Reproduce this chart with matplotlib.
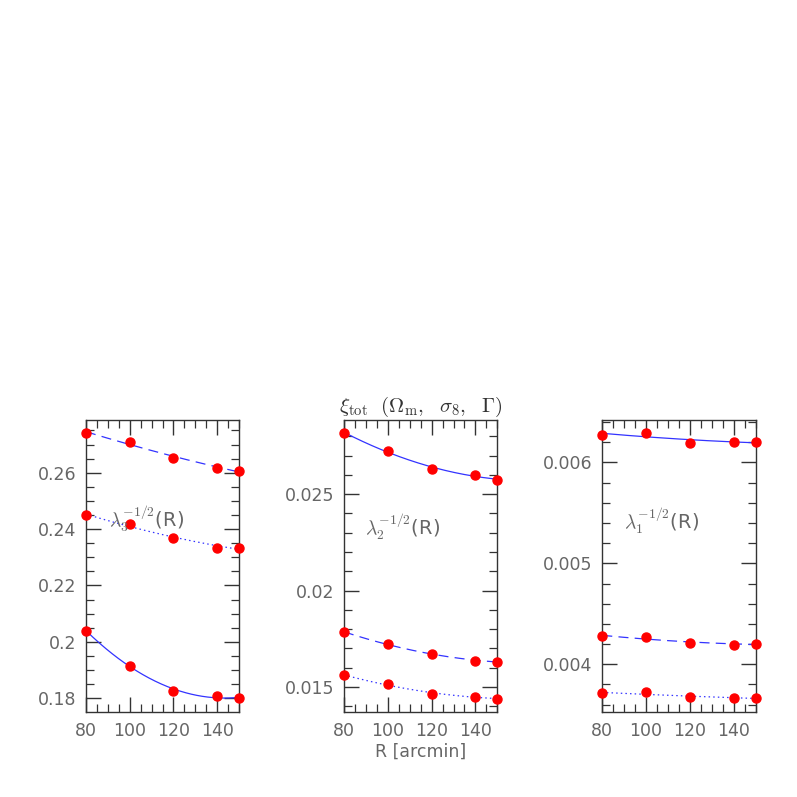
import matplotlib
matplotlib.use('Agg')
import matplotlib.pyplot as plt
from matplotlib.ticker import MultipleLocator
import numpy as np

R = [80, 100, 120, 140, 150]

# lambda_3^{-1/2}(R)
l3_dashed = [0.2742, 0.2709, 0.2653, 0.2616, 0.2607]
l3_dotted = [0.2449, 0.2419, 0.2367, 0.2334, 0.2334]
l3_solid = [0.2039, 0.1916, 0.1827, 0.1808, 0.1800]

# lambda_2^{-1/2}(R)
l2_solid = [0.02818, 0.02725, 0.02630, 0.02600, 0.02574]
l2_dashed = [0.01785, 0.01722, 0.01671, 0.01635, 0.01632]
l2_dotted = [0.01561, 0.01514, 0.01466, 0.01448, 0.01440]

# lambda_1^{-1/2}(R)
l1_solid = [0.006274, 0.006294, 0.006191, 0.006204, 0.006201]
l1_dashed = [0.004280, 0.004267, 0.004211, 0.004194, 0.004204]
l1_dotted = [0.003714, 0.003721, 0.003672, 0.003662, 0.003669]

plt.rcParams['mathtext.fontset'] = 'cm'
FG = '#333333'
TXT = '#666666'
LINE = '#3333ff'
DASH = (0, (8, 5))
DOT = (0, (1.2, 2.5))

panels = [
    dict(rect=[0.1079, 0.1066, 0.192, 0.3664], ylim=(0.1751, 0.2787),
         minor=0.005, fmt=['0.18', '0.2', '0.22', '0.24', '0.26'],
         ticks=[0.18, 0.20, 0.22, 0.24, 0.26],
         series=[(l3_dashed, DASH), (l3_dotted, DOT), (l3_solid, '-')],
         label=r'$\lambda_3^{-1/2}$(R)', lpos=(90.5, 0.2436)),
    dict(rect=[0.4316, 0.1066, 0.1924, 0.3664], ylim=(0.0137, 0.02884),
         minor=0.001, fmt=['0.015', '0.02', '0.025'],
         ticks=[0.015, 0.020, 0.025],
         series=[(l2_solid, '-'), (l2_dashed, DASH), (l2_dotted, DOT)],
         label=r'$\lambda_2^{-1/2}$(R)', lpos=(89.6, 0.02334)),
    dict(rect=[0.7557, 0.1066, 0.1924, 0.3664], ylim=(0.003527, 0.006420),
         minor=0.0002, fmt=['0.004', '0.005', '0.006'],
         ticks=[0.004, 0.005, 0.006],
         series=[(l1_solid, '-'), (l1_dashed, DASH), (l1_dotted, DOT)],
         label=r'$\lambda_1^{-1/2}$(R)', lpos=(89.9, 0.005428)),
]

fig = plt.figure(figsize=(7.97, 7.97), dpi=100)
fig.patch.set_facecolor('white')

rr = np.linspace(80, 150, 200)
axes = []
for p in panels:
    ax = fig.add_axes(p['rect'])
    axes.append(ax)
    for vals, ls in p['series']:
        # smooth fit through the measured points
        c = np.polyfit(R, vals, 2)
        ax.plot(rr, np.polyval(c, rr), color=LINE, lw=0.9, ls=ls, zorder=2)
        ax.plot(R, vals, 'o', color='#ff0000', ms=6.5, mec='#ff0000', zorder=3,
                clip_on=False)
    ax.set_xlim(80, 150)
    ax.set_ylim(*p['ylim'])
    ax.set_xticks([80, 100, 120, 140])
    ax.xaxis.set_minor_locator(MultipleLocator(5))
    ax.set_yticks(p['ticks'])
    ax.set_yticklabels(p['fmt'])
    ax.yaxis.set_minor_locator(MultipleLocator(p['minor']))
    ax.tick_params(which='both', direction='in', top=True, right=True,
                   colors=FG, labelcolor=TXT, labelsize=12.5)
    ax.tick_params(which='major', length=11, width=1.0, pad=7)
    ax.tick_params(which='minor', length=6, width=0.9)
    for s in ax.spines.values():
        s.set_color(FG)
        s.set_linewidth(1.0)
    ax.text(p['lpos'][0], p['lpos'][1], p['label'], fontsize=14, color=TXT,
            ha='left', va='center')

axes[1].set_title(r'$\xi_{\rm tot}\ \ (\Omega_{\rm m},\ \ \sigma_8,\ \ \Gamma)$',
                  fontsize=15, color=FG, pad=6)
axes[1].set_xlabel('R [arcmin]', fontsize=12.5, color=TXT, labelpad=2)

fig.savefig('out.png', dpi=100, facecolor='white')
